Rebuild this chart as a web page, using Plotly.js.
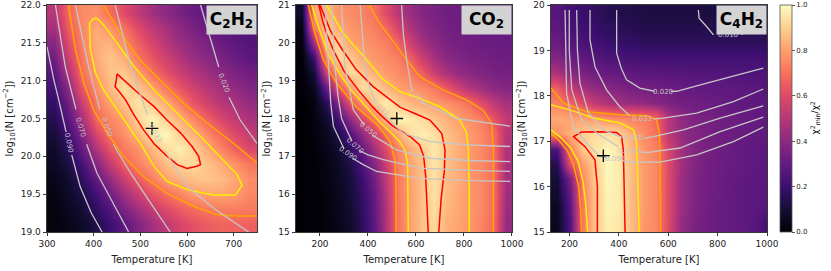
<!DOCTYPE html>
<html><head><meta charset="utf-8">
<script src="https://cdn.plot.ly/plotly-3.0.1.min.js"></script>
<style>html,body{margin:0;padding:0;background:#fff}#chart{width:831px;height:271px}</style>
</head><body><div id="chart"></div>
<script>
// ---------- Panel 1: C2H2 ----------
const c2h2_T = [315,345,375,405,435,465,495,525,555,585,615,645,675,705,735];
const c2h2_N = [19.1,19.3,19.5,19.7,19.9,20.1,20.3,20.5,20.7,20.9,21.1,21.3,21.5,21.7,21.9];
const c2h2_z = [
[0.02,0.04,0.07,0.13,0.20,0.28,0.37,0.45,0.52,0.58,0.62,0.65,0.67,0.67,0.66],
[0.02,0.05,0.10,0.17,0.26,0.36,0.45,0.53,0.60,0.65,0.69,0.72,0.73,0.73,0.72],
[0.03,0.07,0.13,0.22,0.33,0.45,0.55,0.63,0.69,0.75,0.79,0.81,0.81,0.79,0.75],
[0.04,0.09,0.17,0.29,0.42,0.55,0.65,0.73,0.80,0.84,0.87,0.88,0.86,0.81,0.76],
[0.06,0.12,0.23,0.38,0.53,0.66,0.74,0.79,0.86,0.91,0.92,0.87,0.82,0.77,0.71],
[0.08,0.16,0.30,0.48,0.63,0.72,0.77,0.85,0.93,0.97,0.90,0.82,0.74,0.66,0.59],
[0.11,0.21,0.38,0.58,0.71,0.77,0.84,0.95,0.99,0.90,0.83,0.75,0.67,0.59,0.53],
[0.14,0.27,0.46,0.68,0.75,0.80,0.92,0.98,0.90,0.83,0.75,0.66,0.58,0.52,0.47],
[0.18,0.33,0.55,0.72,0.80,0.88,0.95,0.89,0.82,0.73,0.63,0.56,0.50,0.46,0.42],
[0.22,0.40,0.64,0.76,0.86,0.93,0.88,0.81,0.72,0.63,0.56,0.50,0.45,0.41,0.37],
[0.27,0.48,0.70,0.80,0.87,0.89,0.80,0.70,0.62,0.55,0.49,0.44,0.40,0.36,0.33],
[0.32,0.55,0.72,0.82,0.88,0.83,0.71,0.63,0.56,0.49,0.43,0.39,0.35,0.31,0.28],
[0.38,0.60,0.74,0.83,0.84,0.76,0.66,0.58,0.50,0.44,0.39,0.35,0.31,0.28,0.26],
[0.45,0.65,0.75,0.82,0.78,0.70,0.60,0.52,0.46,0.40,0.35,0.31,0.28,0.26,0.24],
[0.50,0.68,0.76,0.77,0.69,0.60,0.52,0.45,0.40,0.35,0.31,0.28,0.26,0.24,0.23]];
const c2h2_red_T = [450,471,500,529,557,586,611,625,629,621,600,579,554,529,507,486,468,454,446,449,450];
const c2h2_red_N = [21.09,20.97,20.81,20.66,20.48,20.31,20.13,20.00,19.89,19.87,19.84,19.89,20.02,20.17,20.35,20.55,20.75,20.86,20.92,21.03,21.09];
const c2h2_yel_T = [400,391,393,404,421,446,471,500,529,557,600,657,704,718,707,671,636,600,564,529,486,450,421,407,400];
const c2h2_yel_N = [21.82,21.76,21.41,21.10,20.88,20.66,20.44,20.17,19.87,19.67,19.56,19.49,19.49,19.62,19.76,20.00,20.22,20.44,20.66,20.88,21.19,21.49,21.74,21.82,21.82];
const c2h2_oraA_T = [346,361,379,400,429,464,507,557,614,664,700,750];
const c2h2_oraA_N = [22,21.41,20.97,20.61,20.31,20.00,19.73,19.51,19.34,19.23,19.21,19.21];
const c2h2_oraB_T = [421,457,500,543,593,643,700,750];
const c2h2_oraB_N = [22,21.63,21.27,21.01,20.70,20.44,20.17,19.91];
const c2h2_g090_T = [300,315,325,341,null,353,371,395,418];
const c2h2_g090_N = [21.45,21.0,20.75,20.32,null,20.02,19.6,19.25,19.0];
const c2h2_g070_T = [318,339,362,null,385,407,440,475];
const c2h2_g070_N = [22,21.19,20.62,null,20.16,19.78,19.4,19.0];
const c2h2_g050_T = [361,389,413,null,442,479,520,564];
const c2h2_g050_N = [22,21.19,20.62,null,20.16,19.78,19.4,19.0];
const c2h2_g033_T = [446,479,515,null,552,600,660,732];
const c2h2_g033_N = [22,21.19,20.55,null,20.08,19.6,19.3,19.0];
const c2h2_g020_T = [629,657,668,null,690,714,750];
const c2h2_g020_N = [22,21.41,21.18,null,20.78,20.48,20.17];
const c2h2_lab_text = ['0.090','0.070','0.050','0.033','0.020'];
const c2h2_lab_T = [346,372,428,531,679];
const c2h2_lab_N = [20.17,20.39,20.39,20.31,20.97];
const c2h2_lab_ang = [78,73,69,62,68];
const c2h2_best = [525,20.37];

// ---------- Panel 2: CO2 ----------
const co2_T = [125,175,225,275,325,375,425,475,525,575,625,675,725,775,825,875,925,975];
const co2_N = [15.2,15.6,16.0,16.4,16.8,17.2,17.6,18.0,18.4,18.8,19.2,19.6,20.0,20.4,20.8];
const co2_z = [
[0.00,0.01,0.02,0.04,0.08,0.16,0.28,0.48,0.71,0.80,0.87,0.92,0.84,0.81,0.78,0.74,0.68,0.42],
[0.00,0.01,0.02,0.05,0.09,0.17,0.29,0.49,0.71,0.80,0.87,0.93,0.85,0.82,0.78,0.75,0.69,0.43],
[0.00,0.01,0.02,0.05,0.10,0.18,0.30,0.50,0.72,0.80,0.87,0.94,0.86,0.82,0.78,0.75,0.69,0.44],
[0.00,0.01,0.03,0.06,0.11,0.20,0.33,0.52,0.72,0.80,0.87,0.94,0.86,0.83,0.78,0.75,0.69,0.45],
[0.00,0.01,0.03,0.07,0.13,0.24,0.38,0.55,0.73,0.81,0.87,0.95,0.87,0.83,0.78,0.75,0.69,0.46],
[0.00,0.01,0.04,0.09,0.17,0.30,0.45,0.60,0.74,0.82,0.89,0.96,0.88,0.83,0.79,0.75,0.69,0.48],
[0.00,0.02,0.05,0.13,0.25,0.40,0.55,0.69,0.82,0.93,0.97,0.94,0.87,0.83,0.79,0.75,0.69,0.50],
[0.00,0.02,0.08,0.22,0.40,0.58,0.71,0.88,0.99,0.96,0.93,0.88,0.84,0.80,0.77,0.73,0.62,0.52],
[0.00,0.03,0.15,0.38,0.62,0.77,0.89,0.97,0.89,0.85,0.82,0.79,0.77,0.74,0.69,0.60,0.52,0.46],
[0.01,0.05,0.30,0.62,0.78,0.93,0.92,0.85,0.80,0.78,0.76,0.72,0.65,0.56,0.49,0.44,0.40,0.38],
[0.01,0.10,0.55,0.79,0.93,0.89,0.83,0.79,0.76,0.73,0.66,0.55,0.47,0.42,0.39,0.37,0.35,0.34],
[0.01,0.20,0.75,0.92,0.89,0.82,0.78,0.76,0.73,0.66,0.55,0.46,0.40,0.37,0.35,0.34,0.33,0.32],
[0.02,0.45,0.88,0.91,0.81,0.78,0.76,0.73,0.67,0.56,0.46,0.40,0.36,0.34,0.33,0.32,0.31,0.31],
[0.03,0.70,0.90,0.82,0.78,0.76,0.73,0.68,0.58,0.48,0.41,0.37,0.34,0.33,0.32,0.31,0.31,0.30],
[0.08,0.82,0.85,0.78,0.76,0.74,0.70,0.60,0.50,0.43,0.38,0.35,0.33,0.32,0.31,0.30,0.30,0.30]];
const co2_red_T = [651,646,640,632,615,580,540,500,460,420,360,300,260,230,210,195,200,215,245,290,350,420,480,533,600,658,707,721,718,705,695];
const co2_red_N = [15,15.8,16.5,17.0,17.3,17.5,17.65,17.82,18.05,18.3,18.75,19.25,19.75,20.2,20.6,21,21,20.75,20.3,19.85,19.3,18.85,18.55,18.3,18.12,17.96,17.61,17.17,16.6,15.9,15];
const co2_yelA_T = [568,568,565,555,530,492,450,394,330,280,235,200,180,165];
const co2_yelA_N = [15,16.2,16.8,17.15,17.4,17.65,17.9,18.3,18.75,19.2,19.7,20.3,20.7,21];
const co2_yelB_T = [228,297,394,460,533,617,700,783,811,818,822,822];
const co2_yelB_N = [21,20.25,19.55,19.05,18.71,18.53,18.31,17.96,17.61,17.17,16.0,15];
const co2_oraA_T = [151,179,214,269,353,436,492,512,517,517];
const co2_oraA_N = [21,20.25,19.55,18.93,18.30,17.85,17.40,16.90,16.20,15];
const co2_oraB_T = [405,450,510,561,617,714,811,880,915,922,922];
const co2_oraB_N = [21,20.5,20.0,19.55,19.1,18.75,18.49,18.22,17.87,17.17,15];
const co2_g020_T = [540,547,561,580,588,null,622,640,769,992];
const co2_g020_N = [21,20.25,19.55,18.83,18.72,null,18.45,18.38,18.0,17.8];
const co2_g033_T = [367,387,405,430,null,468,500,547,658,825,992];
const co2_g033_N = [21,19.37,18.85,18.48,null,18.08,17.88,17.61,17.39,17.30,17.26];
const co2_g050_T = [290,304,339,385,null,418,519,658,825,992];
const co2_g050_N = [21,19.37,18.23,17.82,null,17.56,17.17,16.95,16.89,16.86];
const co2_g070_T = [249,262,275,290,333,null,362,400,464,617,825,992];
const co2_g070_N = [21,19.37,18.6,18.0,17.4,null,17.16,17.04,16.91,16.69,16.63,16.60];
const co2_g090_T = [221,235,245,256,300,null,336,380,436,617,825,992];
const co2_g090_N = [21,19.37,18.4,17.79,17.2,null,16.95,16.78,16.60,16.42,16.36,16.34];
const co2_lab_text = ['0.020','0.033','0.050','0.070','0.090'];
const co2_lab_T = [605,450,401,347,318];
const co2_lab_N = [18.58,18.28,17.69,17.28,17.07];
const co2_lab_ang = [40,45,40,40,35];
const co2_best = [520,18.0];

// ---------- Panel 3: C4H2 ----------
const c4h2_T = [150,200,250,300,350,400,450,500,550,600,650,700,750,800,850,900,950,1000];
const c4h2_N = [15.167,15.5,15.833,16.167,16.5,16.833,17.167,17.5,17.833,18.167,18.5,18.833,19.167,19.5,19.833];
const c4h2_z = [
[0.05,0.25,0.70,0.87,0.97,0.95,0.86,0.78,0.75,0.60,0.42,0.36,0.33,0.31,0.30,0.29,0.27,0.22],
[0.06,0.27,0.71,0.87,0.98,0.96,0.86,0.79,0.75,0.60,0.44,0.37,0.33,0.31,0.30,0.29,0.28,0.26],
[0.08,0.30,0.72,0.87,0.98,0.96,0.86,0.79,0.75,0.60,0.44,0.37,0.34,0.32,0.30,0.29,0.28,0.27],
[0.10,0.35,0.74,0.88,0.99,0.96,0.86,0.79,0.75,0.60,0.44,0.37,0.34,0.32,0.30,0.29,0.28,0.28],
[0.14,0.62,0.79,0.89,0.99,0.96,0.86,0.79,0.75,0.60,0.45,0.38,0.34,0.32,0.31,0.30,0.29,0.28],
[0.25,0.72,0.88,0.94,0.99,0.95,0.85,0.78,0.74,0.58,0.45,0.38,0.35,0.33,0.31,0.30,0.29,0.28],
[0.76,0.84,0.90,0.93,0.94,0.92,0.83,0.76,0.70,0.52,0.42,0.38,0.35,0.33,0.32,0.31,0.30,0.29],
[0.82,0.81,0.80,0.79,0.76,0.75,0.74,0.73,0.68,0.50,0.41,0.37,0.35,0.33,0.32,0.31,0.30,0.29],
[0.74,0.68,0.60,0.53,0.48,0.45,0.43,0.41,0.39,0.36,0.34,0.33,0.32,0.31,0.30,0.29,0.29,0.28],
[0.66,0.54,0.47,0.42,0.39,0.37,0.35,0.34,0.33,0.32,0.31,0.30,0.30,0.29,0.29,0.28,0.28,0.27],
[0.48,0.40,0.36,0.33,0.31,0.30,0.29,0.28,0.28,0.27,0.27,0.26,0.26,0.26,0.25,0.25,0.25,0.25],
[0.38,0.32,0.29,0.27,0.25,0.24,0.23,0.22,0.22,0.22,0.22,0.22,0.22,0.22,0.22,0.22,0.22,0.22],
[0.32,0.27,0.24,0.22,0.20,0.19,0.18,0.17,0.17,0.17,0.17,0.17,0.17,0.17,0.17,0.17,0.17,0.17],
[0.29,0.24,0.21,0.19,0.17,0.16,0.15,0.14,0.14,0.14,0.14,0.14,0.14,0.14,0.14,0.14,0.14,0.14],
[0.27,0.22,0.19,0.17,0.15,0.14,0.13,0.12,0.12,0.12,0.12,0.12,0.12,0.12,0.12,0.12,0.12,0.12]];
const c4h2_red_T = [313,313,303,263,216,249,324,391,411,418,421,425];
const c4h2_red_N = [15,16.0,16.59,16.88,17.1,17.2,17.21,17.19,17.1,16.81,16.08,15];
const c4h2_yelA_T = [125,165,205,235,255,266,273];
const c4h2_yelA_N = [17.25,17.08,16.85,16.55,16.1,15.6,15];
const c4h2_yelB_T = [125,202,297,405,459,472,475,479,482];
const c4h2_yelB_N = [17.8,17.69,17.51,17.4,17.25,16.96,16.44,15.71,15];
const c4h2_oraA_T = [125,160,190,215,237,245,249];
const c4h2_oraA_N = [17.18,17.0,16.8,16.5,16.0,15.5,15];
const c4h2_oraB_T = [125,175,270,405,513,553,564,567,569];
const c4h2_oraB_N = [18.17,17.84,17.65,17.58,17.56,17.47,17.18,16.44,15];
const c4h2_g010_T = [722,725,756,783,null,897,906];
const c4h2_g010_N = [19.89,19.71,19.52,19.34,null,19.34,19.41];
const c4h2_g020_T = [391,391,410,431,485,545,null,610,634,756,877,985];
const c4h2_g020_N = [19.89,18.94,18.6,18.35,18.17,18.1,null,18.1,18.1,18.28,18.46,18.61];
const c4h2_g033_T = [283,283,303,350,404,445,null,539,580,715,864,985];
const c4h2_g033_N = [19.89,19.23,18.64,18.13,17.76,17.56,null,17.49,17.51,17.62,17.87,18.15];
const c4h2_g050_T = [229,232,242,276,337,415,null,500,540,661,810,985];
const c4h2_g050_N = [19.89,19.01,18.28,17.62,17.25,17.08,null,17.06,17.10,17.25,17.51,17.78];
const c4h2_g070_T = [199,199,209,249,310,377,397,null,480,512,648,810,985];
const c4h2_g070_N = [19.89,19.01,18.13,17.47,17.18,16.96,16.88,null,16.77,16.75,16.85,17.21,17.53];
const c4h2_g090_T = [182,184,188,215,269,324,355,null,415,445,566,715,864,985];
const c4h2_g090_N = [19.89,18.94,18.06,17.32,16.96,16.66,16.62,null,16.57,16.54,16.54,16.70,16.99,17.31];
const c4h2_lab_text = ['0.010','0.020','0.033','0.050','0.070','0.090'];
const c4h2_lab_T = [840,577,492,458,438,385];
const c4h2_lab_N = [19.33,18.08,17.5,17.07,16.79,16.6];
const c4h2_lab_ang = [0,0,0,0,0,0];
const c4h2_best = [337,16.68];

const molecules = ['C<sub>2</sub>H<sub>2</sub>','CO<sub>2</sub>','C<sub>4</sub>H<sub>2</sub>'];
const cbTicks = [0,0.2,0.4,0.6,0.8,1.0];

// ---------- build ----------
const magma = [[0,'#000004'],[0.1,'#140e36'],[0.2,'#3b0f70'],[0.3,'#641a80'],[0.4,'#8c2981'],
  [0.5,'#b73779'],[0.6,'#de4968'],[0.7,'#f7705c'],[0.8,'#fe9f6d'],[0.9,'#fecf92'],[1,'#fcfdbf']];
const FONT = 'DejaVu Sans, Liberation Sans, sans-serif';
const GRAY = '#c6c6c6';
const traces = [];
const annotations = [];

function heat(T,N,z,k,scale){
  const t = {type:'heatmap', x:T, y:N, z:z, xaxis:'x'+(k>1?k:''), yaxis:'y'+(k>1?k:''),
    colorscale:magma, zmin:0, zmax:1, zsmooth:'best', showscale:!!scale, hoverinfo:'skip'};
  if(scale){
    t.colorbar = {x:(780-47)/720, xanchor:'left', xpad:0, ypad:0, y:0, yanchor:'bottom', len:1, lenmode:'fraction',
      thickness:12, thicknessmode:'pixels', outlinewidth:0.8, outlinecolor:'#555',
      tickvals:cbTicks, ticktext:cbTicks.map(v=>v.toFixed(1)), ticks:'outside', ticklen:3, tickwidth:0.8,
      tickcolor:'#333', tickfont:{family:FONT,size:7,color:'#222'}};
  }
  traces.push(t);
}
function ln(T,N,color,width,k){
  traces.push({type:'scatter', mode:'lines', x:T, y:N, xaxis:'x'+(k>1?k:''), yaxis:'y'+(k>1?k:''),
    line:{color:color,width:width}, connectgaps:false, hoverinfo:'skip', showlegend:false});
}
function best(p,k){
  traces.push({type:'scatter', mode:'markers', x:[p[0]], y:[p[1]], xaxis:'x'+(k>1?k:''), yaxis:'y'+(k>1?k:''),
    marker:{symbol:'cross-thin', size:9, line:{color:'#000', width:1.3}}, hoverinfo:'skip', showlegend:false});
}
function labels(text,T,N,ang,k){
  for(let i=0;i<text.length;i++){
    annotations.push({xref:'x'+(k>1?k:''), yref:'y'+(k>1?k:''), x:T[i], y:N[i], text:text[i], textangle:ang[i],
      showarrow:false, font:{family:FONT,size:7,color:GRAY}});
  }
}

// panel 1
heat(c2h2_T,c2h2_N,c2h2_z,1,false);
ln(c2h2_oraA_T,c2h2_oraA_N,'#ffa500',1.5,1); ln(c2h2_oraB_T,c2h2_oraB_N,'#ffa500',1.5,1);
ln(c2h2_yel_T,c2h2_yel_N,'#ffee00',1.5,1); ln(c2h2_red_T,c2h2_red_N,'#ff0000',1.5,1);
[[c2h2_g090_T,c2h2_g090_N],[c2h2_g070_T,c2h2_g070_N],[c2h2_g050_T,c2h2_g050_N],[c2h2_g033_T,c2h2_g033_N],[c2h2_g020_T,c2h2_g020_N]]
  .forEach(g=>ln(g[0],g[1],GRAY,1.3,1));
best(c2h2_best,1); labels(c2h2_lab_text,c2h2_lab_T,c2h2_lab_N,c2h2_lab_ang,1);
// panel 2
heat(co2_T,co2_N,co2_z,2,false);
ln(co2_oraA_T,co2_oraA_N,'#ffa500',1.5,2); ln(co2_oraB_T,co2_oraB_N,'#ffa500',1.5,2);
ln(co2_yelA_T,co2_yelA_N,'#ffee00',1.5,2); ln(co2_yelB_T,co2_yelB_N,'#ffee00',1.5,2);
ln(co2_red_T,co2_red_N,'#ff0000',1.5,2);
[[co2_g020_T,co2_g020_N],[co2_g033_T,co2_g033_N],[co2_g050_T,co2_g050_N],[co2_g070_T,co2_g070_N],[co2_g090_T,co2_g090_N]]
  .forEach(g=>ln(g[0],g[1],GRAY,1.3,2));
best(co2_best,2); labels(co2_lab_text,co2_lab_T,co2_lab_N,co2_lab_ang,2);
// panel 3
heat(c4h2_T,c4h2_N,c4h2_z,3,true);
ln(c4h2_oraA_T,c4h2_oraA_N,'#ffa500',1.5,3); ln(c4h2_oraB_T,c4h2_oraB_N,'#ffa500',1.5,3);
ln(c4h2_yelA_T,c4h2_yelA_N,'#ffee00',1.5,3); ln(c4h2_yelB_T,c4h2_yelB_N,'#ffee00',1.5,3);
ln(c4h2_red_T,c4h2_red_N,'#ff0000',1.5,3);
[[c4h2_g010_T,c4h2_g010_N],[c4h2_g020_T,c4h2_g020_N],[c4h2_g033_T,c4h2_g033_N],[c4h2_g050_T,c4h2_g050_N],[c4h2_g070_T,c4h2_g070_N],[c4h2_g090_T,c4h2_g090_N]]
  .forEach(g=>ln(g[0],g[1],GRAY,1.3,3));
best(c4h2_best,3); labels(c4h2_lab_text,c4h2_lab_T,c4h2_lab_N,c4h2_lab_ang,3);

// molecule boxes
molecules.forEach((m,i)=>{
  const k = i+1;
  annotations.push({xref:'x'+(k>1?k:'')+' domain', yref:'y'+(k>1?k:'')+' domain', x:1, y:1, xanchor:'right', yanchor:'top',
    text:'<b>'+m+'</b>', showarrow:false, bgcolor:'#d3d3d3', borderpad:2, width:45, height:24, valign:'middle',
    font:{family:FONT,size:17,color:'#000'}});
});
// colorbar title
annotations.push({xref:'paper', yref:'paper', x:(815-47)/720, y:0.5, xanchor:'center', yanchor:'middle',
  text:'χ<sup>2</sup><sub>min</sub>/χ<sup>2</sup>', textangle:-90, showarrow:false, font:{family:FONT,size:9,color:'#000'}});

const axCommon = {showline:true, mirror:true, linecolor:'#222', linewidth:0.9, ticks:'outside', ticklen:3.5,
  tickwidth:0.9, tickcolor:'#222', showgrid:false, zeroline:false, tickfont:{family:FONT,size:9,color:'#222'}};
const xTitle = {text:'Temperature [K]', font:{family:FONT,size:10,color:'#222'}, standoff:7};
const yTitle = {text:'log<sub>10</sub>(N [cm<sup>−2</sup>])', font:{family:FONT,size:10,color:'#222'}, standoff:5};

const layout = {
  width:831, height:271, margin:{l:47,r:64,t:5,b:39}, paper_bgcolor:'#fff', plot_bgcolor:'#fff',
  showlegend:false, font:{family:FONT},
  xaxis: Object.assign({}, axCommon, {domain:[0,0.29167], range:[300,750], anchor:'y', tickvals:[300,400,500,600,700], title:xTitle}),
  yaxis: Object.assign({}, axCommon, {domain:[0,1], range:[19,22], anchor:'x', tickvals:[19,19.5,20,20.5,21,21.5,22], tickformat:'.1f', title:yTitle}),
  xaxis2: Object.assign({}, axCommon, {domain:[0.34583,0.64583], range:[100,1000], anchor:'y2', tickvals:[200,400,600,800,1000], title:xTitle}),
  yaxis2: Object.assign({}, axCommon, {domain:[0,1], range:[15,21], anchor:'x2', tickvals:[15,16,17,18,19,20,21], title:yTitle}),
  xaxis3: Object.assign({}, axCommon, {domain:[0.7,1], range:[125,1000], anchor:'y3', tickvals:[200,400,600,800,1000], title:xTitle}),
  yaxis3: Object.assign({}, axCommon, {domain:[0,1], range:[15,20], anchor:'x3', tickvals:[15,16,17,18,19,20], title:yTitle}),
  annotations: annotations
};
Plotly.newPlot('chart', traces, layout, {staticPlot:true, displayModeBar:false});
</script></body></html>
